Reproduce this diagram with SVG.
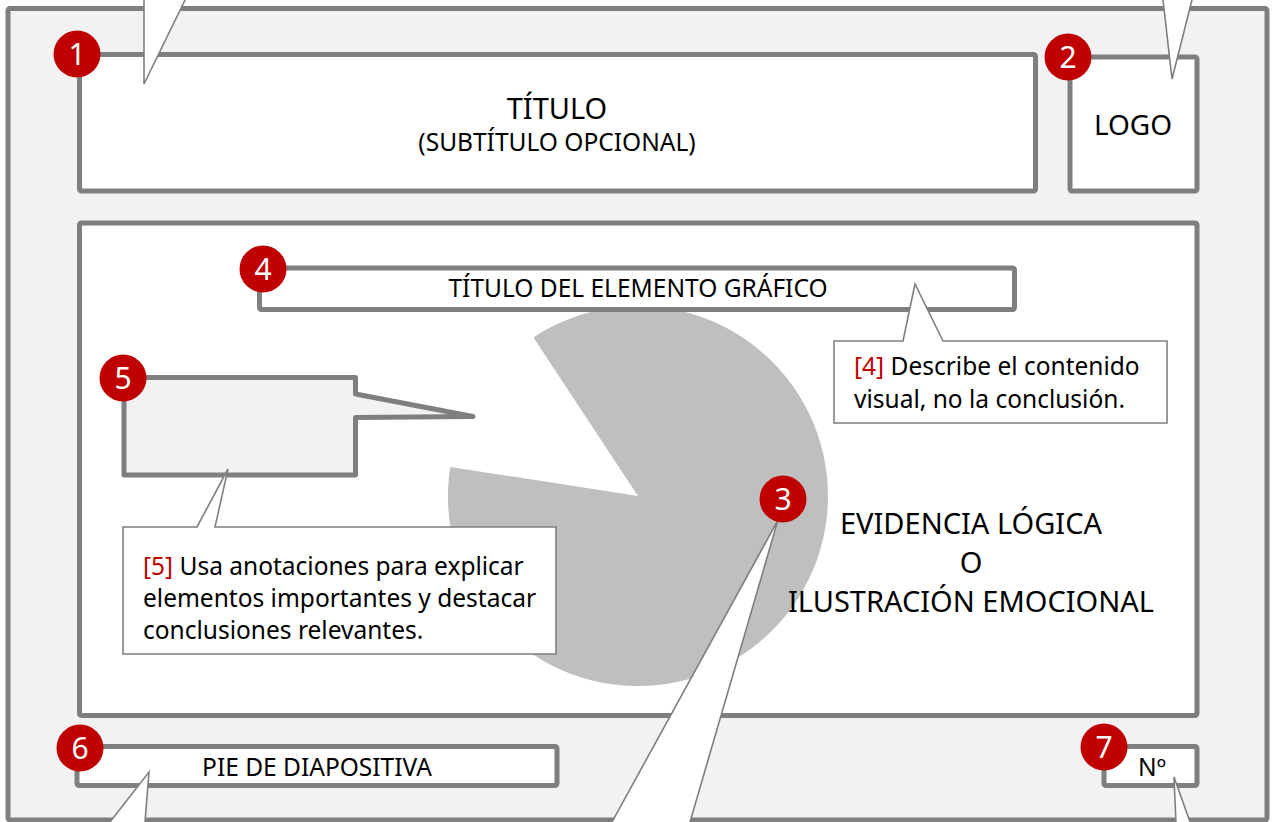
<svg xmlns="http://www.w3.org/2000/svg" width="1275" height="822" viewBox="0 0 1275 822">
<style>
.box{fill:#ffffff;stroke:#7f7f7f;stroke-width:5;stroke-linejoin:round}
.frame{fill:#f2f2f2;stroke:#7f7f7f;stroke-width:5;stroke-linejoin:round}
.thin{fill:#ffffff;stroke:#7f7f7f;stroke-width:1.6;stroke-linejoin:miter}
.badge{fill:#c00000}
.num{font-family:"Noto Sans","DejaVu Sans",sans-serif;font-size:30px;fill:#ffffff;text-anchor:middle}
.lbl{font-family:"Noto Sans","DejaVu Sans",sans-serif;fill:#000000;text-anchor:middle}
.body{font-family:"Noto Sans","DejaVu Sans",sans-serif;font-size:24.5px;fill:#000000}
.red{fill:#c00000}
</style>
<rect width="1275" height="822" fill="#ffffff"/>
<g id="slide">
<rect class="frame" x="8" y="8.5" width="1259" height="811.5" rx="2"/>
</g>
<g id="title-box">
<rect class="box" x="79.5" y="54.5" width="956" height="136.5" rx="2"/>
<text class="lbl" x="557" y="119" font-size="29">TÍTULO</text>
<text class="lbl" x="557" y="151" font-size="24.5">(SUBTÍTULO OPCIONAL)</text>
</g>
<g id="logo-box">
<rect class="box" x="1070" y="57" width="127" height="134" rx="2"/>
<text class="lbl" x="1133" y="135" font-size="28">LOGO</text>
</g>
<g id="content-box">
<rect class="box" x="79.5" y="223" width="1117.5" height="492.5" rx="2"/>
</g>
<g id="pie-chart">
<path d="M638,496 L450.2,466.9 A190,190 0 1 0 533.4,337.4 Z" fill="#bfbfbf"/>
</g>
<g id="chart-title-box">
<rect class="box" x="259.5" y="268" width="755" height="41.5" rx="2"/>
<text class="lbl" x="638" y="297" font-size="24.5">TÍTULO DEL ELEMENTO GRÁFICO</text>
</g>
<g id="annotation-callout">
<path class="box" fill="#f2f2f2" style="fill:#f2f2f2" d="M124,377.5 L355.5,377.5 L355.5,394 L473,416.5 L355.5,417.5 L355.5,475 L124,475 Z"/>
</g>
<g id="footer-box">
<rect class="box" x="77" y="746.5" width="480" height="39" rx="2"/>
<text class="lbl" x="317" y="776" font-size="24.5">PIE DE DIAPOSITIVA</text>
</g>
<g id="number-box">
<rect class="box" x="1104" y="746.5" width="93" height="39" rx="2"/>
<text class="lbl" x="1152" y="776" font-size="24.5">Nº</text>
</g>
<g id="connectors">
<path class="thin" d="M144,-10 L144,84 L189.9,-10 Z"/>
<path class="thin" d="M1161.9,-10 L1172,79 L1194.5,-10 Z"/>
<path class="thin" d="M606.5,832 L778,520 L687.1,832 Z"/>
<path class="thin" d="M102.2,832 L149,772 L144.2,832 Z"/>
<path class="thin" d="M1176.4,832 L1174,777 L1193.6,832 Z"/>
</g>
<g id="note-4">
<path class="thin" d="M834,341 L903,341 L915,284 L943,341 L1167,341 L1167,423 L834,423 Z"/>
<text class="body" x="854" y="375"><tspan class="red">[4]</tspan> Describe el contenido</text>
<text class="body" x="854" y="408">visual, no la conclusión.</text>
</g>
<g id="note-5">
<path class="thin" d="M123,527 L197,527 L228,469 L215,527 L556,527 L556,654 L123,654 Z"/>
<text class="body" x="143" y="575"><tspan class="red">[5]</tspan> Usa anotaciones para explicar</text>
<text class="body" x="143" y="607">elementos importantes y destacar</text>
<text class="body" x="143" y="639">conclusiones relevantes.</text>
</g>
<g id="main-message">
<text class="lbl" x="971" y="534" font-size="29">EVIDENCIA LÓGICA</text>
<text class="lbl" x="971" y="573" font-size="29">O</text>
<text class="lbl" x="971" y="612" font-size="29">ILUSTRACIÓN EMOCIONAL</text>
</g>
<g id="badge-1"><circle class="badge" cx="77" cy="54" r="23.5"/><text class="num" x="77" y="65">1</text></g>
<g id="badge-2"><circle class="badge" cx="1068" cy="57" r="23.5"/><text class="num" x="1068" y="68">2</text></g>
<g id="badge-3"><circle class="badge" cx="783" cy="499" r="23.5"/><text class="num" x="783" y="510">3</text></g>
<g id="badge-4"><circle class="badge" cx="263" cy="269" r="23.5"/><text class="num" x="263" y="280">4</text></g>
<g id="badge-5"><circle class="badge" cx="123" cy="378" r="23.5"/><text class="num" x="123" y="389">5</text></g>
<g id="badge-6"><circle class="badge" cx="80" cy="748" r="23.5"/><text class="num" x="80" y="759">6</text></g>
<g id="badge-7"><circle class="badge" cx="1104" cy="747" r="23.5"/><text class="num" x="1104" y="758">7</text></g>
</svg>
